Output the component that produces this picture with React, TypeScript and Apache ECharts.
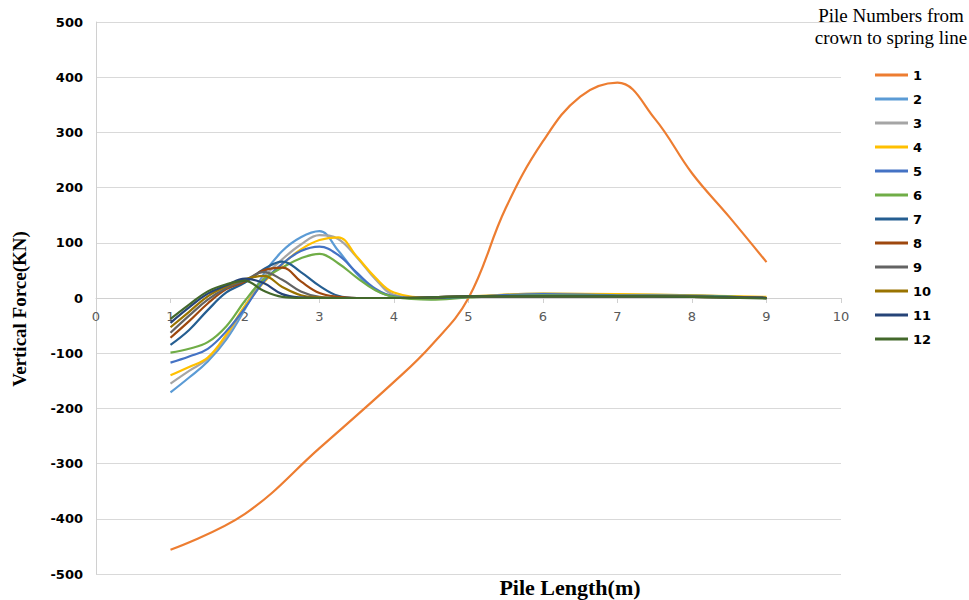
import React, { useEffect, useRef } from "react";
import * as echarts from "echarts";

// Pile length positions (m)
const xPile1 = [1, 2, 3, 4, 4.5, 5, 5.5, 6, 6.5, 7, 7.5, 8, 8.5, 9];
const xOthers = [1, 1.25, 1.5, 1.75, 2, 2.25, 2.5, 2.75, 3, 3.25, 3.5, 3.75, 4, 4.5, 5, 6, 7, 8, 9];

// Vertical force (KN) per pile number
const pile1 = [-456, -391, -272, -152, -86, 0, 163, 284, 365, 390, 325, 226, 147, 65];
const pile2 = [-171, -144, -115, -75, -20, 43, 85, 110, 121, 86, 44, 15, 3, -2, 2, 8, 6, 5, 0];
const pile3 = [-155, -132, -110, -70, -15, 37, 70, 97, 114, 107, 74, 34, 6, -1, 2, 6, 5, 4, 0];
const pile4 = [-140, -125, -108, -66, -14, 28, 61, 88, 105, 110, 75, 37, 10, 1, 3, 8, 7, 5, 2];
const pile5 = [-117, -106, -92, -60, -18, 30, 62, 85, 93, 78, 46, 17, 3, -1, 2, 7, 5, 4, 0];
const pile6 = [-99, -92, -80, -51, -5, 34, 55, 72, 80, 63, 37, 14, 2, -3, 1, 5, 4, 4, 0];
const pile7 = [-85, -58, -22, 10, 28, 52, 66, 47, 22, 4, 0, 0, 0, 0, 2, 3, 3, 3, 0];
const pile8 = [-72, -42, -10, 16, 30, 50, 55, 30, 9, 2, 0, 0, 0, 1, 3, 3, 3, 2, 0];
const pile9 = [-63, -32, -3, 18, 32, 47, 33, 12, 2, 0, 0, 0, 0, 1, 3, 3, 3, 2, 0];
const pile10 = [-53, -25, 3, 21, 34, 40, 20, 5, 1, 0, 0, 0, 0, 1, 3, 3, 3, 2, 0];
const pile11 = [-45, -17, 8, 23, 35, 27, 7, 1, 0, 0, 0, 0, 0, 1, 3, 3, 3, 2, 0];
const pile12 = [-38, -12, 12, 25, 31, 13, 2, 0, 0, 0, 0, 0, 0, 1, 3, 3, 3, 2, -1];

const seriesNames = ["1", "2", "3", "4", "5", "6", "7", "8", "9", "10", "11", "12"];
const seriesValues = [pile1, pile2, pile3, pile4, pile5, pile6, pile7, pile8, pile9, pile10, pile11, pile12];
const colors = [
  "#ED7D31", "#5B9BD5", "#A5A5A5", "#FFC000", "#4472C4", "#70AD47",
  "#255E91", "#9E480E", "#636363", "#997300", "#264478", "#43682B",
];

const GRID_TOP = 22;
const GRID_BOTTOM = 26;
const CHART_H = 600;

export default function App() {
  const ref = useRef<HTMLDivElement>(null);

  useEffect(() => {
    if (!ref.current) return;
    const chart = echarts.init(ref.current, undefined, { renderer: "svg" });

    const series = seriesNames.map((name, i) => {
      const xs = i === 0 ? xPile1 : xOthers;
      const vals = seriesValues[i];
      return {
        name,
        type: "line",
        data: xs.map((x, k) => [x, vals[k]]),
        smooth: 0.4,
        symbol: "none",
        lineStyle: { width: 2.2, color: colors[i] },
        itemStyle: { color: colors[i] },
      };
    });

    // distance from plot bottom up to the value-0 line (y range -500..500 is symmetric)
    const plotH = CHART_H - GRID_TOP - GRID_BOTTOM;
    const zeroOffset = -plotH / 2;

    chart.setOption({
      animation: false,
      color: colors,
      grid: { left: 96, right: 128, top: GRID_TOP, bottom: GRID_BOTTOM, containLabel: false },
      xAxis: {
        type: "value",
        min: 0,
        max: 10,
        interval: 1,
        position: "bottom",
        offset: zeroOffset,
        axisLine: { onZero: false, lineStyle: { color: "#d0d0d0", width: 1 } },
        axisTick: { show: true, length: 5, lineStyle: { color: "#d0d0d0" } },
        axisLabel: {
          color: "#595959",
          fontFamily: "DejaVu Sans",
          fontSize: 13,
          margin: 12,
        },
        splitLine: { show: false },
      },
      yAxis: {
        type: "value",
        min: -500,
        max: 500,
        interval: 100,
        axisLine: { show: true, onZero: false, lineStyle: { color: "#d0d0d0", width: 1 } },
        axisTick: { show: false },
        axisLabel: {
          color: "#000",
          fontFamily: "DejaVu Sans",
          fontWeight: "bold",
          fontSize: 13,
          margin: 13,
        },
        splitLine: { show: true, lineStyle: { color: "#d9d9d9", width: 1 } },
      },
      legend: {
        orient: "vertical",
        left: 875,
        top: 68,
        padding: 0,
        icon: "rect",
        itemWidth: 33,
        itemHeight: 3,
        itemGap: 10,
        data: seriesNames,
        textStyle: {
          color: "#000",
          fontFamily: "DejaVu Sans",
          fontWeight: "bold",
          fontSize: 13,
          lineHeight: 14,
        },
      },
      graphic: [
        {
          type: "text",
          x: 19,
          y: 309,
          rotation: Math.PI / 2,
          style: {
            text: "Vertical Force(KN)",
            font: "bold 19px 'Liberation Serif'",
            fill: "#000",
            align: "center",
            verticalAlign: "middle",
          },
        },
        {
          type: "text",
          x: 570,
          y: 587,
          style: {
            text: "Pile Length(m)",
            font: "bold 22px 'Liberation Serif'",
            fill: "#000",
            align: "center",
            verticalAlign: "middle",
          },
        },
        {
          type: "text",
          x: 891,
          y: 15,
          style: {
            text: "Pile Numbers from",
            font: "19px 'Liberation Serif'",
            fill: "#000",
            align: "center",
            verticalAlign: "middle",
          },
        },
        {
          type: "text",
          x: 891,
          y: 37,
          style: {
            text: "crown to spring line",
            font: "19px 'Liberation Serif'",
            fill: "#000",
            align: "center",
            verticalAlign: "middle",
          },
        },
      ],
      series,
    });

    return () => chart.dispose();
  }, []);

  return <div ref={ref} style={{ width: 969, height: 600, position: "absolute", left: 0, top: 0 }} />;
}
